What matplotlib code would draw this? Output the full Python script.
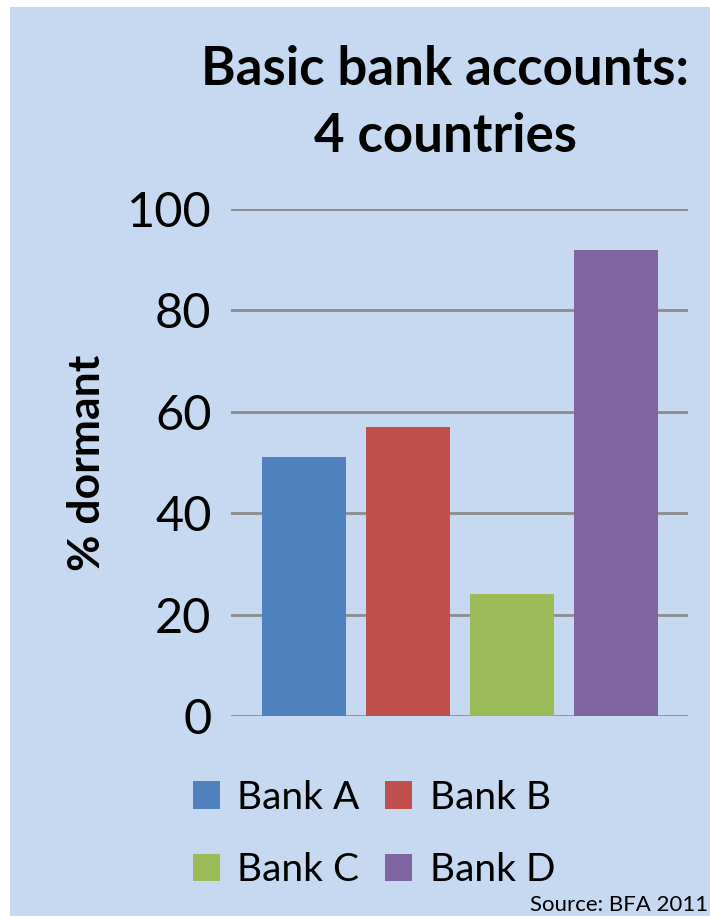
import matplotlib.pyplot as plt
from matplotlib.patches import Rectangle

banks = ['Bank A', 'Bank B', 'Bank C', 'Bank D']
dormant = [51, 57, 24, 92]
colors = ['#4F81BD', '#C0504D', '#9BBB59', '#8064A2']
yticks = [0, 20, 40, 60, 80, 100]

plt.rcParams['font.family'] = ['Lato', 'DejaVu Sans']
bg = '#C6D9F0'

fig = plt.figure(figsize=(7.1, 9.16), dpi=100, facecolor='white')
fig.patches.append(Rectangle((10 / 710, 0), 1, 1 - 7 / 916, transform=fig.transFigure,
                             facecolor=bg, edgecolor='none', zorder=-10))

ax = fig.add_axes([231 / 710, 200 / 916, 457 / 710, 507 / 916])
ax.set_zorder(2)
ax.set_facecolor(bg)
ax.patch.set_alpha(0)

bars = []
for i, (name, val, c) in enumerate(zip(banks, dormant, colors)):
    bars.append(ax.bar(i, val, width=0.808, color=c, label=name, zorder=3))

ax.set_xlim(-0.702, 3.692)
ax.set_ylim(0, 100)
ax.set_yticks(yticks)
ax.set_yticklabels([str(t) for t in yticks], fontsize=35)
ax.set_xticks([])
ax.tick_params(axis='y', length=0, pad=14)
ax.yaxis.grid(True, color='#8C8C8C', linewidth=2, zorder=0)
for s in ax.spines.values():
    s.set_visible(False)

ax.set_ylabel('% dormant', fontsize=32, fontweight='bold', labelpad=14)

fig.text(445 / 710, 1 - 103 / 916, 'Basic bank accounts:\n4 countries', ha='center', va='center',
         fontsize=38, fontweight='bold', linespacing=1.44)

# legend is filled row by row: A B / C D
order = [0, 2, 1, 3]
ax.legend([bars[k] for k in order], [banks[k] for k in order],
          loc='center', bbox_to_anchor=(374 / 710, 1 - 834 / 916), bbox_transform=fig.transFigure,
          ncol=2, frameon=False, fontsize=28, handlelength=0.7, handleheight=0.7,
          handletextpad=0.45, columnspacing=0.65, labelspacing=0.95)

fig.text(708 / 710, 1 - 905 / 916, 'Source: BFA 2011', ha='right', va='center', fontsize=16)

plt.savefig('out.png', dpi=100, facecolor=fig.get_facecolor())
